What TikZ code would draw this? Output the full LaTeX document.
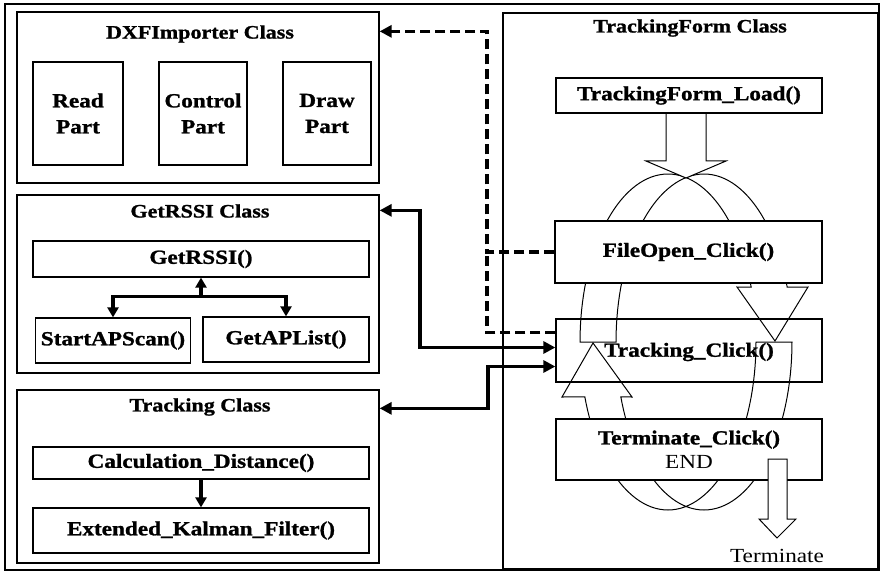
\documentclass[tikz,border=0pt]{standalone}
\usepackage{fontspec}
\setmainfont{Liberation Serif}[FakeStretch=1.16,BoldFeatures={FakeBold=1.2}]
\usetikzlibrary{arrows.meta,calc}

\begin{document}
\begin{tikzpicture}[x=1pt,y=-1pt,
  box/.style={draw,rectangle,line width=1.3pt,inner sep=0pt,fill=white,
    font=\fontsize{20}{26}\selectfont\bfseries,align=center},
  title/.style={inner sep=0pt,font=\fontsize{19}{24}\selectfont\bfseries},
  plain/.style={inner sep=0pt,font=\fontsize{20}{24}\selectfont},
  loopline/.style={line width=1pt,line join=miter},
  tip/.style={-{Triangle[length=12pt,width=12pt]}},
  twotip/.style={{Triangle[length=12pt,width=12pt]}-{Triangle[length=12pt,width=12pt]}},
  link/.style={line width=3.4pt},
  inlink/.style={line width=3.2pt,-{Triangle[length=10pt,width=11pt]}},
  dashlink/.style={line width=3.4pt,dash pattern=on 10pt off 5pt}
]
% canvas
\fill[white] (0,0) rectangle (886,580);
\useasboundingbox (0,0) rectangle (886,580);
\draw[line width=1.3pt] (5,4) rectangle (879,570);

% ---------- DXFImporter class ----------
\node[box,minimum width=362pt,minimum height=171pt] (dxf) at (198,97.5) {};
\node[title] (dxft) at (200,34) {DXFImporter Class};
\node[box,minimum width=90pt,minimum height=103pt] (rp) at (78,113.5) {Read\\Part};
\node[box,minimum width=88pt,minimum height=103pt] (cp) at (203,113.5) {Control\\Part};
\node[box,minimum width=88pt,minimum height=103pt] (dp) at (327,113.5) {Draw\\Part};

% ---------- GetRSSI class ----------
\node[box,minimum width=362pt,minimum height=178pt] (grc) at (198,284) {};
\node[title] (grct) at (200,211) {GetRSSI Class};
\node[box,minimum width=336pt,minimum height=36pt] (grf) at (201,259) {GetRSSI()};
\node[box,minimum width=155pt,minimum height=45pt] (sap) at (113,340.5) {StartAPScan()};
\node[box,minimum width=166pt,minimum height=45pt] (gap) at (286,339.5) {GetAPList()};
\coordinate (jn) at ($(grf.south)+(0,19)$);
\draw[inlink] (jn) -- (grf.south);
\draw[inlink] (jn) -| (sap.north);
\draw[inlink] (jn) -| (gap.north);

% ---------- Tracking class ----------
\node[box,minimum width=362pt,minimum height=173pt] (trc) at (198,476.5) {};
\node[title] (trct) at (200,407) {Tracking Class};
\node[box,minimum width=336pt,minimum height=32pt] (cd) at (201,463) {Calculation\_Distance()};
\node[box,minimum width=336pt,minimum height=45pt] (ekf) at (201,530.5) {Extended\_Kalman\_Filter()};
\draw[inlink] (cd.south) -- (ekf.north);

% ---------- TrackingForm class ----------
\node[draw,line width=1.3pt,minimum width=375pt,minimum height=556pt,inner sep=0pt] (tfc) at (690.5,291) {};
\node[title] (tfct) at (690,28) {TrackingForm Class};
\node[draw,line width=1.3pt,minimum width=266pt,minimum height=63pt,inner sep=0pt] (tcl) at (689,350.5) {};

% loop of two curved block arrows around the event handlers
\draw[loopline]
  plot[domain=180:19.1,samples=60] ({668+88*cos(\x)},{342-168*sin(\x)})
  -- (737,287) -- (775,341) -- (808,287)
  -- plot[domain=19.1:180,samples=60] ({704+88*cos(\x)},{342-168*sin(\x)})
  -- cycle;
\draw[loopline]
  plot[domain=0:-160.9,samples=60] ({668+88*cos(\x)},{342-168*sin(\x)})
  -- (562,397) -- (593,343) -- (632,397)
  -- plot[domain=-160.9:0,samples=60] ({704+88*cos(\x)},{342-168*sin(\x)})
  -- cycle;

% start arrow below the load handler
\filldraw[fill=white,loopline] (666,113) -- (666,161) -- (646,161) -- (686,178)
  -- (726,161) -- (706,161) -- (706,113);
\node[box,minimum width=266pt,minimum height=35pt] (tfl) at (689,95.5) {TrackingForm\_Load()};
\node[box,minimum width=267pt,minimum height=62pt] (fo) at (688.5,252) {FileOpen\_Click()};
\node[title,font=\fontsize{20}{24}\selectfont\bfseries] (tclt) at (689,352) {Tracking\_Click()};
\node[box,minimum width=266pt,minimum height=61pt,font=\fontsize{20}{24}\selectfont] (term) at (689,449.5)
  {\textbf{Terminate\_Click()}\\END};

% exit arrow
\filldraw[fill=white,loopline] (768,459) -- (768,519) -- (759,519) -- (777,538)
  -- (796,519) -- (787,519) -- (787,459) -- cycle;
\node[plain] (termt) at (777,556) {Terminate};

% ---------- connections between classes ----------
\path ([yshift=3pt]tcl.west) coordinate (tcg)
      ([yshift=-16pt]tcl.west) coordinate (tct)
      ([yshift=18pt]tcl.west) coordinate (tcd)
      ([yshift=-16pt]grc.north east) coordinate (grin)
      ([yshift=-19pt]trc.north east) coordinate (trin)
      ([yshift=-20pt]dxf.north east) coordinate (dxfin);
\coordinate (cA) at (420,0);
\coordinate (cB) at (488,0);
\coordinate (cD) at (487,0);

\draw[dashlink,tip] (fo.west) -- (fo.west -| cD) -- (cD |- dxfin) -- (dxfin);
\draw[dashlink] (tcd) -- (tcd -| cD) -- (fo.west -| cD);
\draw[link,twotip] (tcg) -- (tcg -| cA) -- (cA |- grin) -- (grin);
\draw[link,twotip] (tct) -- (tct -| cB) -- (cB |- trin) -- (trin);
\end{tikzpicture}
\end{document}
